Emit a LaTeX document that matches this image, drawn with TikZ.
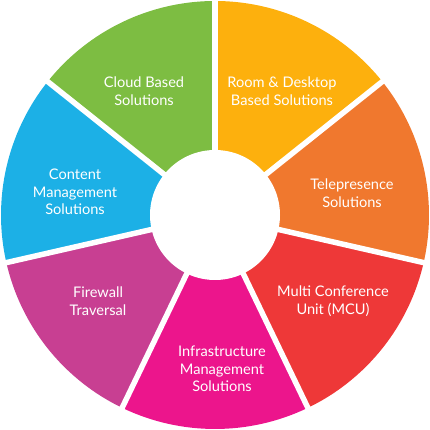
\documentclass[tikz,border=0pt]{standalone}
\usepackage{fontspec}
\setmainfont{Lato}
\begin{document}
\begin{tikzpicture}[x=1pt,y=1pt]
\definecolor{cgreen}{HTML}{7DBD42}
\definecolor{cyellow}{HTML}{FDB00D}
\definecolor{corange}{HTML}{F0782E}
\definecolor{cred}{HTML}{EE3838}
\definecolor{cmagenta}{HTML}{EC158C}
\definecolor{cpurple}{HTML}{C83F92}
\definecolor{cblue}{HTML}{1CB0E6}
\tikzset{lbl/.style={text=white,align=center,font=\fontsize{14.6}{17.5}\selectfont},
gap/.style={draw=white,line width=5.5pt}}
\useasboundingbox (-215,-215) rectangle (215,215);
\def\Ro{214}
\def\Ri{65}
\foreach \c [count=\i] in {cyellow,corange,cred,cmagenta,cpurple,cblue,cgreen}{
  \pgfmathsetmacro\aa{90-(\i-1)*360/7}
  \pgfmathsetmacro\ab{90-\i*360/7}
  \fill[\c] (0,0) -- (\aa:\Ro) arc[start angle=\aa,end angle=\ab,radius=\Ro] -- cycle;
}
\foreach \i in {0,...,6}{
  \pgfmathsetmacro\aa{90-\i*360/7}
  \coordinate (g\i) at (\aa:\Ro+5);
  \draw[gap] (0,0) -- (g\i);
}
\fill[white] (0,0) circle[radius=\Ri];
\node[lbl] (t1) at (67,124) {Room \& Desktop\\Based Solutions};
\node[lbl] (t2) at (137,22) {Telepresence\\Solutions};
\node[lbl] (t3) at (118,-86) {Multi Conference\\Unit (MCU)};
\node[lbl] (t4) at (7,-154) {Infrastructure\\Management\\Solutions};
\node[lbl] (t5) at (-117,-86) {Firewall\\Traversal};
\node[lbl] (t6) at (-140,23) {Content\\Management\\Solutions};
\node[lbl] (t7) at (-71,124) {Cloud Based\\Solutions};
\end{tikzpicture}
\end{document}
